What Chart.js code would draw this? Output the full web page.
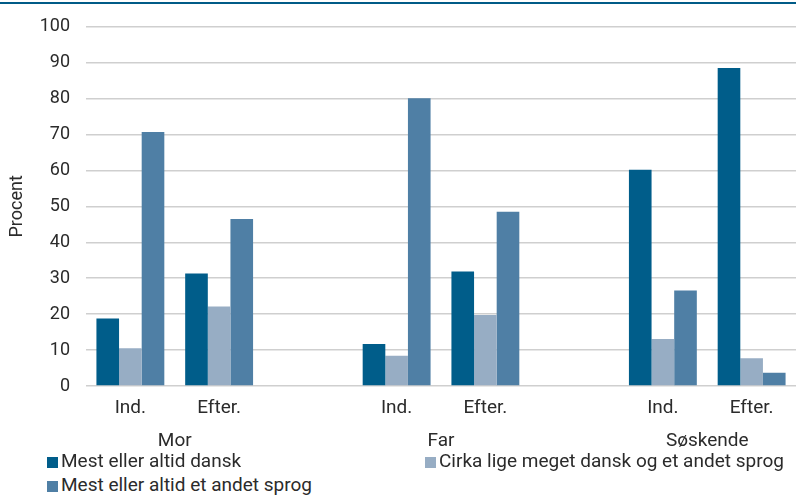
<!DOCTYPE html>
<html>
<head>
<meta charset="utf-8">
<script src="https://cdn.jsdelivr.net/npm/chart.js@4"></script>
<style>
  body { margin: 0; background: #fff; font-family: Roboto, sans-serif; }
  #wrap { position: relative; width: 796px; height: 495px; overflow: hidden; }
  #topline { position: absolute; left: 0; top: 2px; width: 796px; height: 2px; background: #005b87; }
  #grafico { position: absolute; left: 0; top: 0; }
  #legenda { position: absolute; left: 0; top: 450px; width: 796px; font-size: 19px; color: #2b2b2b; }
  .item { position: absolute; white-space: nowrap; line-height: 22px; }
  .item span.box { display: inline-block; width: 11px; height: 11px; margin-right: 3px; vertical-align: -1px; }
</style>
</head>
<body>
<div id="wrap">
  <div id="topline"></div>
  <canvas id="grafico" width="796" height="455"></canvas>
  <div id="legenda"></div>
</div>
<script>
// kategorier (tomme pladser giver mellemrum mellem grupperne)
const kategorier = ["Ind.", "Efter.", "", "Ind.", "Efter.", "", "Ind.", "Efter."];
const grupper = ["Mor", "Far", "Søskende"];
const gruppePos = [1, 4, 7]; // grænse mellem Ind. og Efter. i hver gruppe

const serieNavne = [
  "Mest eller altid dansk",
  "Cirka lige meget dansk og et andet sprog",
  "Mest eller altid et andet sprog"
];
const dansk = [18.8, 31.3, null, 11.7, 31.9, null, 60.2, 88.5];
const cirka = [10.5, 22.1, null, 8.4, 19.8, null, 13.1, 7.7];
const andet = [70.7, 46.5, null, 80.1, 48.5, null, 26.6, 3.7];
const yTicks = [0, 10, 20, 30, 40, 50, 60, 70, 80, 90, 100];

const cores = ["#005d8a", "#97adc4", "#4f7fa5"];
const tekstCor = "#2b2b2b";

const ctx = document.getElementById("grafico").getContext("2d");

new Chart(ctx, {
  type: "bar",
  data: {
    labels: kategorier,
    datasets: [dansk, cirka, andet].map((valores, i) => ({
      label: serieNavne[i],
      data: valores,
      backgroundColor: cores[i],
      borderWidth: 0,
      barPercentage: 1,
      categoryPercentage: 0.765,
      xAxisID: "x",
      yAxisID: "y"
    }))
  },
  options: {
    responsive: false,
    animation: false,
    layout: { padding: { top: 26, right: 0, bottom: 0, left: 0 } },
    plugins: {
      legend: { display: false },
      tooltip: { enabled: false }
    },
    scales: {
      x: {
        type: "category",
        position: "bottom",
        grid: { display: false },
        border: { display: false },
        ticks: {
          color: tekstCor,
          font: { family: "Roboto", size: 19 },
          padding: 3,
          maxRotation: 0,
          autoSkip: false
        },
        afterFit: (scale) => { scale.height = 34; }
      },
      grupper: {
        type: "linear",
        position: "bottom",
        offset: false,
        min: 0,
        max: 8,
        grid: { display: false },
        border: { display: false },
        afterBuildTicks: (scale) => {
          scale.ticks = gruppePos.map((v) => ({ value: v }));
        },
        ticks: {
          color: tekstCor,
          font: { family: "Roboto", size: 19 },
          padding: 2,
          maxRotation: 0,
          autoSkip: false,
          callback: (v) => grupper[gruppePos.indexOf(v)] || ""
        },
        afterFit: (scale) => { scale.height = 35; }
      },
      y: {
        min: 0,
        max: 100,
        afterBuildTicks: (scale) => {
          scale.ticks = yTicks.map((v) => ({ value: v }));
        },
        grid: { color: "#cfcfcf", lineWidth: 1.6, drawTicks: false },
        border: { display: false },
        ticks: {
          color: tekstCor,
          font: { family: "Roboto", size: 18 },
          padding: 16
        },
        title: {
          display: true,
          text: "Procent",
          color: tekstCor,
          font: { family: "Roboto", size: 18 },
          padding: { top: 7, bottom: 0 }
        },
        afterFit: (scale) => { scale.width = 86; }
      }
    }
  }
});

// legenda em HTML (duas colunas como no original)
const posLegenda = [[47, 0], [425, 0], [47, 24]];
const legenda = document.getElementById("legenda");
serieNavne.forEach((nome, i) => {
  const el = document.createElement("div");
  el.className = "item";
  el.style.left = posLegenda[i][0] + "px";
  el.style.top = posLegenda[i][1] + "px";
  el.innerHTML = `<span class="box" style="background:${cores[i]}"></span>${nome}`;
  legenda.appendChild(el);
});
</script>
</body>
</html>
